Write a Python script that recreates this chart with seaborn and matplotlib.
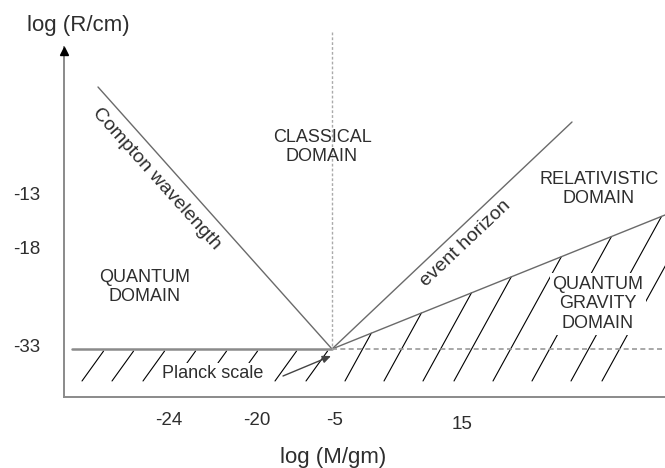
import numpy as np
import pandas as pd
import seaborn as sns
import matplotlib.pyplot as plt
from matplotlib.transforms import ScaledTranslation

# schematic diagram coordinates (about one unit per pixel, y runs downward)
x_tick_labels = ['-24', '-20', '-5', '15']
y_tick_labels = ['-13', '-18', '-33']
x_tick_pos = [169, 257, 335, 462]
y_tick_pos = [193, 248, 345]

planck_x, planck_y = 332, 349
compton_x = [98, 332]
compton_y = [87, 349]
horizon_x = [332, 572]
horizon_y = [349, 122]
gravity_x = [332, 665]
gravity_y = [349, 215]

hatch_left = [82, 112, 143, 174, 205, 236, 275, 306]
hatch_right = [345, 384, 423, 454, 493, 532, 571, 602]

sns.set_style('white')
plt.rcParams['font.family'] = ['Liberation Sans', 'DejaVu Sans']
txt = '#2e2e2e'

W, H = 665, 468
x0, x1, y0, y1 = 64, 665, 47, 397
fig = plt.figure(figsize=(W / 100, H / 100), dpi=100)
ax = fig.add_axes([x0 / W, 1 - y1 / H, (x1 - x0) / W, (y1 - y0) / H])
ax.set_xlim(x0, x1)
ax.set_ylim(y1, y0)

sns.despine(ax=ax)
for s in ['left', 'bottom']:
    ax.spines[s].set_color('#8a8a8a')
    ax.spines[s].set_linewidth(1.4)
ax.plot(x0, 51, marker='^', ms=6, color='black', clip_on=False, zorder=5)

ax.set_xticks(x_tick_pos, x_tick_labels)
ax.set_yticks(y_tick_pos, y_tick_labels)
ax.tick_params(axis='x', length=0, pad=11, labelsize=13.5, labelcolor=txt)
ax.tick_params(axis='y', length=0, pad=17, labelsize=13.5, labelcolor=txt)
# the "15" label sits a little lower in the original
lab = ax.get_xticklabels()[3]
lab.set_transform(lab.get_transform() + ScaledTranslation(0, -0.04, fig.dpi_scale_trans))
ax.text(78, 25, 'log (R/cm)', ha='center', va='center', fontsize=16, color=txt)
ax.text(333, 457, 'log (M/gm)', ha='center', va='center', fontsize=16, color=txt)

# boundary lines
bounds = pd.DataFrame({
    'x': compton_x + horizon_x + gravity_x,
    'y': compton_y + horizon_y + gravity_y,
    'line': ['compton'] * 2 + ['horizon'] * 2 + ['gravity'] * 2,
})
sns.lineplot(data=bounds, x='x', y='y', units='line', estimator=None, sort=False,
             color='#6a6a6a', lw=1.0, ax=ax, zorder=2)
ax.set_xlabel('')
ax.set_ylabel('')

# Planck scale level and mass line
ax.plot([72, planck_x], [planck_y, planck_y], color='#8a8a8a', lw=1.8, zorder=2)
ax.plot([planck_x, x1], [planck_y, planck_y], color='#999999', lw=1.2,
        ls=(0, (3, 2)), zorder=2)
ax.plot([planck_x, planck_x], [32, planck_y], color='#aaaaaa', lw=1.0,
        ls=(0, (2, 1.5)), clip_on=False, zorder=2)

# hatching
yb = 381
k_left, k_right = 0.72, 0.55
for xb in hatch_left:
    ax.plot([xb, xb + k_left * (yb - 351)], [yb, 351], color='black', lw=0.8, zorder=1)
s = (gravity_y[1] - gravity_y[0]) / (gravity_x[1] - gravity_x[0])
for xb in hatch_right:
    yt = (planck_y + s * (xb + k_right * yb - planck_x)) / (1 + s * k_right)
    ax.plot([xb, xb + k_right * (yb - yt)], [yb, yt], color='black', lw=0.8, zorder=1)

# labels
def angle(xs, ys):
    return np.degrees(np.arctan2(-(ys[1] - ys[0]), xs[1] - xs[0]))

ax.text(156, 179, 'Compton wavelength', rotation=angle(compton_x, compton_y),
        rotation_mode='anchor', ha='center', va='center', fontsize=14, color=txt)
ax.text(466, 243, 'event horizon', rotation=angle(horizon_x, horizon_y),
        rotation_mode='anchor', ha='center', va='center', fontsize=14, color=txt)

ax.text(322, 147, 'CLASSICAL\nDOMAIN', ha='center', va='center', fontsize=13, color=txt)
ax.text(145, 287, 'QUANTUM\nDOMAIN', ha='center', va='center', fontsize=13, color=txt)
ax.text(599, 189, 'RELATIVISTIC\nDOMAIN', ha='center', va='center', fontsize=13, color=txt)
ax.text(598, 304, 'QUANTUM\nGRAVITY\nDOMAIN', ha='center', va='center', fontsize=13,
        color=txt, zorder=3, bbox=dict(fc='white', ec='none', pad=2))
ax.text(213, 373, 'Planck scale', ha='center', va='center', fontsize=13,
        color=txt, zorder=3, bbox=dict(fc='white', ec='none', pad=1))
ax.annotate('', xy=(331, 356), xytext=(283, 376), zorder=4,
            arrowprops=dict(arrowstyle='-|>,head_length=0.5,head_width=0.22',
                            color='#444444', lw=1, shrinkA=0, shrinkB=0))

fig.savefig('out.png', dpi=100)
